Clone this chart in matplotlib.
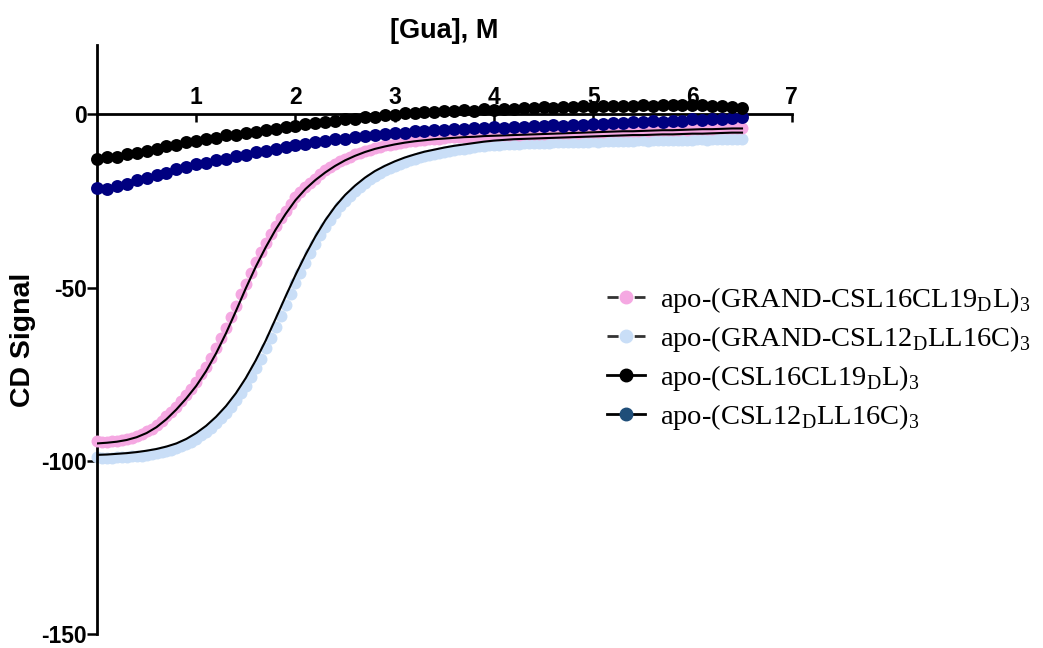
import numpy as np
import matplotlib
matplotlib.use("Agg")
from matplotlib import pyplot as plt
from matplotlib.lines import Line2D

plt.rcParams['axes.unicode_minus'] = False
plt.rcParams['mathtext.fontset'] = 'custom'
plt.rcParams['mathtext.rm'] = 'Liberation Serif'

# guanidine concentration, M
gua = np.linspace(0, 6.5, 66)        # 0.1 M steps
gua_fine = np.linspace(0, 6.5, 131)  # 0.05 M steps

# GRAND peptides: measured points (0.05 M steps) and fitted curves (0.1 M steps)
grand_16_19_pts = [
    -94.3, -94.5, -94.6, -94.3, -94.2, -93.9, -93.6, -93.3, -92.9, -92.3,
    -91.5, -90.7, -89.8, -88.6, -87.2, -85.9, -84.4, -82.8, -81.0, -79.2,
    -77.2, -75.1, -72.8, -70.3, -67.5, -64.7, -61.8, -58.5, -55.2, -52.0,
    -48.9, -45.7, -42.6, -39.8, -37.1, -34.6, -32.2, -29.9, -27.8, -25.8,
    -24.0, -22.4, -20.9, -19.7, -18.6, -17.3, -16.2, -15.3, -14.4, -13.6,
    -12.9, -12.2, -11.6, -11.1, -10.6, -10.2, -9.8, -9.4, -9.0, -8.8,
    -8.5, -8.3, -8.1, -7.8, -7.6, -7.5, -7.4, -7.2, -7.0, -7.0,
    -6.9, -6.7, -6.6, -6.6, -6.5, -6.5, -6.4, -6.3, -6.2, -6.2,
    -6.0, -6.1, -6.0, -5.9, -5.8, -5.9, -5.8, -5.7, -5.6, -5.7,
    -5.6, -5.5, -5.4, -5.5, -5.4, -5.3, -5.2, -5.3, -5.2, -5.1,
    -5.0, -5.1, -5.0, -4.9, -4.9, -4.8, -4.8, -4.9, -4.8, -4.7,
    -4.6, -4.7, -4.6, -4.5, -4.5, -4.6, -4.5, -4.4, -4.3, -4.4,
    -4.3, -4.2, -4.2, -4.3, -4.2, -4.1, -4.1, -4.0, -4.1, -4.0,
    -4.0]
grand_16_19_fit = [
    -95.0, -94.8, -94.5, -94.0, -93.2, -92.0, -90.3, -88.0, -85.2, -82.0,
    -78.4, -74.1, -69.0, -63.2, -56.8, -50.2, -44.0, -38.4, -33.3, -28.8,
    -24.8, -21.6, -19.0, -16.8, -14.9, -13.3, -12.0, -10.9, -10.0, -9.3,
    -8.7, -8.2, -7.8, -7.5, -7.2, -7.0, -6.8, -6.6, -6.5, -6.3,
    -6.2, -6.1, -6.0, -5.9, -5.8, -5.7, -5.6, -5.5, -5.4, -5.3,
    -5.2, -5.1, -5.0, -4.9, -4.9, -4.8, -4.7, -4.6, -4.6, -4.5,
    -4.4, -4.3, -4.3, -4.2, -4.1, -4.1]
grand_12_16_pts = [
    -99.0, -99.2, -99.3, -99.1, -99.0, -98.9, -98.8, -98.7, -98.6, -98.5,
    -98.3, -98.1, -97.8, -97.5, -97.2, -96.8, -96.4, -95.8, -95.2, -94.5,
    -93.6, -92.7, -91.6, -90.5, -89.2, -87.8, -86.2, -84.5, -82.6, -80.5,
    -78.3, -75.9, -73.3, -70.5, -67.6, -64.5, -61.4, -58.2, -55.0, -51.8,
    -48.7, -45.7, -42.8, -40.0, -37.4, -34.9, -32.5, -30.4, -28.4, -26.6,
    -25.0, -23.5, -22.2, -20.9, -19.8, -18.7, -17.8, -16.9, -16.2, -15.5,
    -14.9, -14.3, -13.8, -13.3, -12.8, -12.4, -12.0, -11.7, -11.4, -11.1,
    -10.8, -10.5, -10.3, -10.1, -9.9, -9.7, -9.5, -9.3, -9.1, -9.0,
    -8.8, -8.8, -8.7, -8.6, -8.5, -8.5, -8.4, -8.4, -8.3, -8.3,
    -8.2, -8.2, -8.1, -8.1, -8.0, -8.1, -8.0, -7.9, -7.9, -8.0,
    -7.8, -7.9, -7.8, -7.7, -7.7, -7.8, -7.6, -7.7, -7.6, -7.5,
    -7.5, -7.6, -7.5, -7.4, -7.4, -7.5, -7.4, -7.3, -7.3, -7.4,
    -7.3, -7.2, -7.2, -7.3, -7.2, -7.1, -7.1, -7.2, -7.1, -7.0,
    -7.0]
grand_12_16_fit = [
    -98.3, -98.2, -98.0, -97.8, -97.5, -97.1, -96.6, -95.9, -95.0, -93.7,
    -92.0, -89.9, -87.3, -84.2, -80.5, -76.1, -71.0, -65.3, -59.0, -52.6,
    -46.4, -40.6, -35.3, -30.6, -26.6, -23.3, -20.6, -18.3, -16.4, -14.9,
    -13.6, -12.5, -11.6, -10.8, -10.2, -9.6, -9.1, -8.7, -8.3, -7.9,
    -7.6, -7.4, -7.2, -7.1, -7.0, -6.9, -6.8, -6.7, -6.6, -6.5,
    -6.4, -6.3, -6.2, -6.1, -6.0, -6.0, -5.9, -5.8, -5.8, -5.7,
    -5.6, -5.6, -5.5, -5.4, -5.3, -5.3]
# parent peptides (0.1 M steps)
csl_16_19 = [
    -12.8, -12.4, -12.3, -11.6, -11.3, -10.5, -10.1, -9.2, -8.8, -8.0,
    -7.7, -7.0, -6.8, -6.1, -5.9, -5.3, -5.0, -4.4, -4.2, -3.6,
    -3.4, -2.8, -2.6, -2.1, -1.9, -1.4, -1.3, -0.8, -0.7, -0.2,
    -0.1, 0.3, 0.3, 0.6, 0.6, 0.9, 0.8, 1.1, 1.0, 1.4,
    1.3, 1.6, 1.5, 1.8, 1.7, 2.0, 1.9, 2.2, 2.1, 2.3,
    2.2, 2.4, 2.3, 2.5, 2.4, 2.6, 2.5, 2.7, 2.6, 2.8,
    2.6, 2.7, 2.4, 2.4, 2.0, 1.8]
csl_12_16 = [
    -21.3, -21.6, -20.7, -20.1, -19.1, -18.5, -17.5, -16.9, -15.9, -15.3,
    -14.4, -14.0, -13.2, -12.9, -12.1, -11.7, -10.9, -10.6, -9.9, -9.5,
    -8.9, -8.6, -8.0, -7.8, -7.2, -7.0, -6.5, -6.4, -5.9, -5.8,
    -5.3, -5.3, -4.9, -4.9, -4.5, -4.6, -4.2, -4.3, -4.0, -4.1,
    -3.8, -3.9, -3.6, -3.7, -3.4, -3.5, -3.2, -3.3, -3.0, -3.1,
    -2.7, -2.8, -2.5, -2.6, -2.2, -2.3, -2.0, -2.1, -1.8, -1.9,
    -1.5, -1.6, -1.3, -1.3, -1.0, -0.9]

labels = [
    r'apo-(GRAND-CSL16CL19$_{\mathrm{D}}$L)$_{3}$',
    r'apo-(GRAND-CSL12$_{\mathrm{D}}$LL16C)$_{3}$',
    r'apo-(CSL16CL19$_{\mathrm{D}}$L)$_{3}$',
    r'apo-(CSL12$_{\mathrm{D}}$LL16C)$_{3}$',
]

pink = '#f5a8e2'
light_blue = '#c9def7'
navy = '#000080'

fig = plt.figure(figsize=(10.43, 6.48), dpi=100)
ax = fig.add_axes([0.093, 0.0216, 0.666, 0.909])

ax.plot(gua_fine, grand_12_16_pts, 'o', color=light_blue, ms=8.6, mew=0, clip_on=False, zorder=2)
ax.plot(gua_fine, grand_16_19_pts, 'o', color=pink, ms=8.6, mew=0, clip_on=False, zorder=3)
ax.plot(gua, grand_16_19_fit, '-', color='black', lw=1.5, zorder=4)
ax.plot(gua, grand_12_16_fit, '-', color='black', lw=1.5, zorder=4)
ax.plot(gua, csl_12_16, 'o', color=navy, ms=9.3, mew=0, clip_on=False, zorder=5)
ax.plot(gua, csl_16_19, 'o', color='black', ms=9.3, mew=0, clip_on=False, zorder=6)

ax.set_xlim(0, 7)
ax.set_ylim(-150, 20)

ax.spines['right'].set_visible(False)
ax.spines['top'].set_position(('data', 0))
ax.spines['top'].set_visible(False)
ax.spines['bottom'].set_position(('data', 0))
ax.spines['bottom'].set_linewidth(2)
ax.spines['left'].set_linewidth(2)

tick_font = {'family': 'Liberation Sans', 'weight': 'bold', 'size': 16.5}
ax.set_xticks([1, 2, 3, 4, 5, 6, 7])
ax.set_xticklabels(['1', '2', '3', '4', '5', '6', '7'], fontdict=tick_font)
ax.tick_params(axis='x', bottom=True, top=True, labelbottom=False, labeltop=True,
               direction='out', length=5.5, width=1.8, pad=-1.7)
for t in ax.xaxis.get_major_ticks():
    t.tick2line.set_visible(False)
ax.set_yticks([-150, -100, -50, 0])
ax.set_yticklabels(['-150', '-100', '-50', '0'], fontdict=tick_font)
ax.tick_params(axis='y', direction='out', length=7, width=1.8, pad=0.5)

ax.xaxis.set_label_position('top')
ax.set_xlabel('[Gua], M', fontdict={'family': 'Liberation Sans', 'weight': 'bold', 'size': 19.5})
ax.xaxis.set_label_coords(0.5, 1.012)
ax.set_ylabel('CD Signal', fontdict={'family': 'Liberation Sans', 'weight': 'bold', 'size': 20.5})
ax.yaxis.set_label_coords(-0.088, 0.5)

handles = [
    Line2D([], [], color='#333333', lw=2, linestyle=(0, (4, 5.8)), marker='o', ms=9,
           mfc=pink, mec=pink),
    Line2D([], [], color='#333333', lw=2, linestyle=(0, (4, 5.8)), marker='o', ms=9,
           mfc=light_blue, mec=light_blue),
    Line2D([], [], color='black', lw=2, marker='o', ms=9, mfc='black', mec='black'),
    Line2D([], [], color='black', lw=2, marker='o', ms=9, mfc='#1f4e79', mec='#1f4e79'),
]
fig.legend(handles, labels, loc='upper left', bbox_to_anchor=(0.582, 0.560),
           frameon=False, borderpad=0, borderaxespad=0, handlelength=1.33,
           handletextpad=0.53, labelspacing=0.32,
           prop={'family': 'Liberation Serif', 'size': 20.5})

fig.savefig('out.png', dpi=100)
